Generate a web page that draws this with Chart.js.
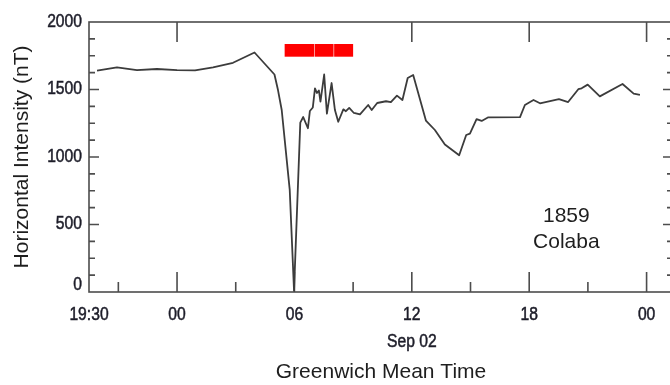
<!DOCTYPE html>
<html><head><meta charset="utf-8">
<script src="https://cdn.jsdelivr.net/npm/chart.js@4.4.1/dist/chart.umd.min.js"></script>
<style>
html,body{margin:0;padding:0;background:#fff;overflow:hidden;width:670px;height:385px}
#wrap{position:relative;width:690px;height:385px}
canvas{display:block}
</style></head><body>
<div id="wrap"><canvas id="c" width="690" height="385" style="width:690px;height:385px"></canvas></div>
<script>
// Hours counted from 1859 Sep 01 00:00 GMT
const hours = [19.91, 20.93, 21.95, 22.97, 24.0, 24.92, 25.84, 26.86, 27.96, 28.98, 29.16, 29.35, 29.76, 29.98,
  30.30, 30.45, 30.69, 30.79, 30.94, 31.05, 31.15, 31.25, 31.33, 31.52, 31.66, 31.90, 32.07, 32.24, 32.50, 32.63,
  32.80, 33.04, 33.35, 33.77, 33.95, 34.23, 34.68, 34.93, 35.24, 35.52, 35.79, 36.07, 36.72, 37.18, 37.69, 38.42,
  38.78, 38.97, 39.31, 39.57, 39.91, 41.53, 41.78, 42.22, 42.55, 43.52, 43.99, 44.51, 44.68, 44.99, 45.61, 46.77,
  47.34, 47.66];
const intensity = [1639, 1664, 1644, 1652, 1644, 1641, 1664, 1698, 1774, 1611, 1496, 1348, 756, 10,
  1255, 1296, 1213, 1341, 1367, 1509, 1474, 1493, 1410, 1611, 1321, 1548, 1348, 1261, 1353, 1339,
  1364, 1326, 1316, 1385, 1348, 1400, 1413, 1406, 1455, 1422, 1585, 1607, 1270, 1200, 1093, 1013,
  1163, 1173, 1281, 1267, 1294, 1296, 1385, 1422, 1398, 1428, 1407, 1502, 1509, 1536, 1449, 1541,
  1469, 1461];
const xTickHours = [19.5, 21, 24, 27, 30, 33, 36, 39, 42, 45, 48];
const xTickLabels = ['19:30', '', '00', '', '06', '', '12', '', '18', '', '00'];
const xTickSubLabels = ['', '', '', '', '', '', 'Sep 02', '', '', '', ''];
const topTickHours = [24, 36, 42, 48];
const yMin = 0, yMax = 2000, yMinorStep = 125, yLabelStep = 500;
const xMin = 19.5, xMax = 49.35;
const stormBarStart = [29.5, 31.03, 32.03];
const stormBarEnd = [31.0, 32.0, 33.0];
const stormBarLevel = 1790;
const noteLines = ['1859', 'Colaba'];
const noteHour = 43.9;
const noteValues = [563, 368];

const datasets = [{
  data: hours.map((h, i) => ({x: h, y: intensity[i]})),
  borderColor: '#3c3c3c', borderWidth: 1.8, borderJoinStyle: 'round',
  pointRadius: 0, tension: 0, fill: false
}];
stormBarStart.forEach((s, i) => {
  datasets.push({
    data: [{x: s, y: stormBarLevel}, {x: stormBarEnd[i], y: stormBarLevel}],
    borderColor: '#ff0000', borderWidth: 12.7, borderCapStyle: 'butt', pointRadius: 0, fill: false
  });
});

function narrowText(ctx, text, x, y, align) {
  ctx.save();
  ctx.translate(x, y);
  ctx.scale(0.87, 1);
  ctx.textAlign = align;
  ctx.textBaseline = 'middle';
  ctx.strokeText(text, 0, 0);
  ctx.fillText(text, 0, 0);
  ctx.restore();
}

const framePlugin = {
  id: 'frame',
  beforeDatasetsDraw(chart) {
    const {ctx, chartArea: {left, right, top, bottom}, scales: {x, y}} = chart;
    ctx.save();
    ctx.strokeStyle = '#4d4d4d';
    ctx.lineWidth = 1.6;
    ctx.strokeRect(left, top, right - left, bottom - top);
    ctx.beginPath();
    xTickHours.forEach((h, i) => {
      if (h <= x.min) return;
      const px = x.getPixelForValue(h);
      const len = xTickLabels[i] ? 20 : 10;
      ctx.moveTo(px, bottom); ctx.lineTo(px, bottom - len);
    });
    topTickHours.forEach(h => {
      const px = x.getPixelForValue(h);
      ctx.moveTo(px, top); ctx.lineTo(px, top + 20);
    });
    y.ticks.forEach(t => {
      const v = t.value;
      if (v <= y.min || v >= y.max) return;
      const py = y.getPixelForValue(v);
      const len = v % yLabelStep === 0 ? 10 : 6;
      ctx.moveTo(left, py); ctx.lineTo(left + len, py);
      ctx.moveTo(right, py); ctx.lineTo(right - len, py);
    });
    ctx.stroke();

    // tick labels (condensed, placed from the scales)
    ctx.fillStyle = '#1c1c28';
    ctx.strokeStyle = '#1c1c28';
    ctx.lineWidth = 0.5;
    ctx.font = '18px "Liberation Sans", Arial, sans-serif';
    y.ticks.forEach(t => {
      const v = t.value;
      if (v % yLabelStep !== 0) return;
      const py = Math.min(y.getPixelForValue(v), bottom - 7);
      narrowText(ctx, String(v), left - 7, py, 'right');
    });
    xTickHours.forEach((h, i) => {
      const px = x.getPixelForValue(h);
      if (xTickLabels[i]) narrowText(ctx, xTickLabels[i], px, bottom + 23, 'center');
      if (xTickSubLabels[i]) narrowText(ctx, xTickSubLabels[i], px, bottom + 50, 'center');
    });
    ctx.restore();
  },
  afterDatasetsDraw(chart) {
    const {ctx, scales: {x, y}} = chart;
    ctx.save();
    ctx.fillStyle = '#1e1e1e';
    ctx.font = '21px "Liberation Sans", Arial, sans-serif';
    ctx.textAlign = 'center';
    ctx.textBaseline = 'middle';
    noteLines.forEach((t, i) => ctx.fillText(t, x.getPixelForValue(noteHour), y.getPixelForValue(noteValues[i])));
    ctx.restore();
  }
};

new Chart(document.getElementById('c'), {
  type: 'line',
  data: {datasets},
  plugins: [framePlugin],
  options: {
    responsive: false, animation: false, devicePixelRatio: 1,
    layout: {padding: {left: 0, top: 22, right: 17, bottom: 0}},
    plugins: {legend: {display: false}, tooltip: {enabled: false}},
    scales: {
      x: {
        type: 'linear', min: xMin, max: xMax,
        afterBuildTicks: s => { s.ticks = xTickHours.map(v => ({value: v})); },
        afterFit: s => { s.height = 93; },
        grid: {display: false, drawTicks: false}, border: {display: false},
        ticks: {display: false, autoSkip: false, maxRotation: 0},
        title: {display: true, text: 'Greenwich Mean Time', color: '#1e1e1e',
          font: {family: '"Liberation Sans", Arial, sans-serif', size: 21}, padding: {top: 0, bottom: 0}}
      },
      y: {
        min: yMin, max: yMax,
        afterFit: s => { s.width = 89; },
        grid: {display: false, drawTicks: false}, border: {display: false},
        ticks: {display: false, stepSize: yMinorStep, autoSkip: false},
        title: {display: true, text: 'Horizontal Intensity (nT)', color: '#1e1e1e',
          font: {family: '"Liberation Sans", Arial, sans-serif', size: 21}, padding: {top: 10, bottom: 0}}
      }
    }
  }
});
</script>
</body></html>
